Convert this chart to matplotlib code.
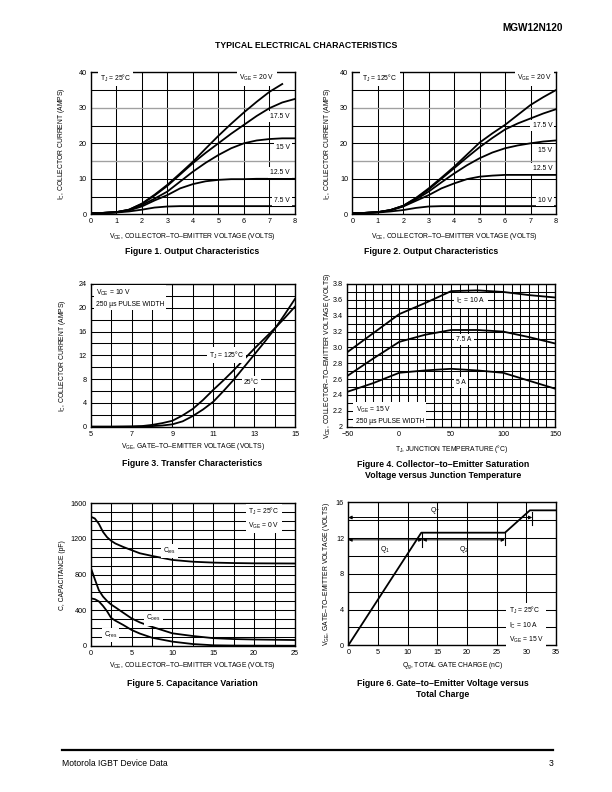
import matplotlib
matplotlib.use('Agg')
import matplotlib.pyplot as plt

plt.rcParams['font.family'] = ['Liberation Sans', 'DejaVu Sans']
plt.rcParams['mathtext.fontset'] = 'custom'
plt.rcParams['mathtext.rm'] = 'Liberation Sans'
plt.rcParams['mathtext.it'] = 'Liberation Sans'
plt.rcParams['mathtext.default'] = 'regular'

# ---- Figure 1: output characteristics, TJ = 25C
vce = [0, 0.5, 1, 1.5, 2, 2.5, 3, 3.5, 4, 4.5, 5, 5.5, 6, 6.5, 7, 7.5, 8]
f1_20 = [0.3, 0.4, 0.6, 1.3, 3.0, 5.5, 8.3, 11.5, 14.8, 18.5, 22.1, 25.5, 28.7, 31.7, 34.5, 36.7]
f1_175 = [0.3, 0.4, 0.6, 1.3, 2.9, 5.3, 8.0, 11.2, 14.4, 17.3, 20.0, 22.7, 25.2, 27.7, 29.9, 31.5, 32.5]
f1_15 = [0.3, 0.4, 0.6, 1.2, 2.6, 4.4, 6.4, 9.2, 12.0, 14.5, 16.7, 18.6, 20.0, 20.8, 21.2, 21.4, 21.4]
f1_125 = [0.3, 0.4, 0.6, 1.1, 2.2, 3.9, 5.4, 7.3, 8.5, 9.3, 9.7, 9.9, 9.9, 10.0, 10.0, 10.0, 10.0]
f1_75 = [0.3, 0.4, 0.5, 0.8, 1.3, 1.9, 2.2, 2.3, 2.3, 2.3, 2.3, 2.3, 2.3, 2.3, 2.3, 2.3, 2.3]

# ---- Figure 2: output characteristics, TJ = 125C
f2_20 = [0.3, 0.4, 0.6, 1.2, 2.4, 4.6, 7.3, 10.3, 13.4, 16.8, 20.2, 22.8, 25.2, 28.0, 30.8, 33.0, 35.0]
f2_175 = [0.3, 0.4, 0.6, 1.2, 2.4, 4.5, 7.0, 10.0, 13.0, 16.0, 18.9, 21.5, 23.9, 25.6, 27.0, 28.4, 29.6]
f2_15 = [0.3, 0.4, 0.6, 1.2, 2.3, 4.2, 6.4, 9.0, 11.5, 13.8, 15.8, 17.4, 18.6, 19.4, 20.0, 20.5, 20.8]
f2_125 = [0.3, 0.4, 0.6, 1.1, 2.2, 3.8, 5.4, 7.3, 8.7, 9.9, 10.6, 10.9, 11.1, 11.1, 11.1, 11.1, 11.1]
f2_10 = [0.3, 0.4, 0.5, 0.8, 1.2, 1.8, 2.2, 2.3, 2.3, 2.3, 2.3, 2.3, 2.3, 2.3, 2.3, 2.3, 2.3]

# ---- Figure 3: transfer characteristics
vge = [5, 6, 7, 7.5, 8, 8.5, 9, 9.5, 10, 10.5, 11, 11.5, 12, 12.5, 13, 13.5, 14, 14.5, 15]
ic_125 = [0, 0, 0.05, 0.1, 0.3, 0.6, 1.0, 1.9, 3.0, 4.5, 6.2, 7.8, 9.5, 11.3, 13.1, 14.8, 16.5, 18.3, 20.2]
ic_25 = [0, 0, 0, 0.05, 0.1, 0.2, 0.4, 0.9, 1.8, 2.9, 4.2, 6.0, 7.9, 10.0, 12.1, 14.2, 16.4, 18.9, 21.5]

# ---- Figure 4: VCE(sat) vs junction temperature
tj = [-50, -25, 0, 25, 50, 75, 100, 125, 150]
vsat_10 = [2.94, 3.18, 3.42, 3.56, 3.71, 3.72, 3.70, 3.66, 3.63]
vsat_75 = [2.64, 2.86, 3.07, 3.16, 3.22, 3.22, 3.20, 3.13, 3.05]
vsat_5 = [2.44, 2.55, 2.68, 2.71, 2.73, 2.71, 2.68, 2.58, 2.48]

# ---- Figure 5: capacitance variation
vce_c = [0, 0.5, 1, 1.5, 2, 2.5, 3, 4, 5, 6, 7.5, 10, 12.5, 15, 17.5, 20, 25]
cies = [1450, 1430, 1370, 1280, 1220, 1180, 1150, 1110, 1075, 1040, 1010, 965, 945, 935, 930, 927, 925]
coes = [880, 750, 625, 555, 505, 465, 435, 372, 310, 265, 215, 142, 112, 88, 78, 73, 67]
cres = [535, 525, 500, 450, 390, 315, 285, 235, 180, 140, 93, 49, 22, 8, 5, 4, 3]

# ---- Figure 6: gate charge
qg = [0, 12.3, 26.4, 30.6, 35]
vge_q = [0, 12.6, 12.6, 15.1, 15.1]

fig = plt.figure(figsize=(6.12, 7.92), dpi=100)

TICK = 5.2
LAB = 4.9


def px_axes(l, t, r, b):
    return fig.add_axes([l / 612, 1 - b / 792, (r - l) / 612, (b - t) / 792])


def setup(ax, xlim, ylim, xmaj, xgrid, ymaj, ygrid):
    ax.set_xlim(xlim)
    ax.set_ylim(ylim)
    ax.set_xticks(xmaj)
    ax.set_yticks(ymaj)
    ax.set_xticks(xgrid, minor=True)
    ax.set_yticks(ygrid, minor=True)
    ax.tick_params(which='both', length=0, labelsize=TICK, pad=3)
    ax.grid(which='both', color='black', lw=0.75)
    for s in ax.spines.values():
        s.set_linewidth(1.0)


def note(ax, x, y, s, ha='left', va='center'):
    ax.text(x, y, s, fontsize=LAB, ha=ha, va=va, zorder=5, linespacing=1.6,
            bbox=dict(fc='white', ec='none', pad=1.5))


def labels(ax, xl, yl, xy, yx):
    ax.text(0.5, xy, xl, transform=ax.transAxes, fontsize=LAB, ha='center', va='center')
    ax.text(yx, 0.5, yl, transform=ax.transAxes, fontsize=LAB, ha='center', va='center', rotation=90)


def title(xc, yc, s):
    fig.text(xc / 612, 1 - yc / 792, s, fontsize=6.3, fontweight='bold', ha='center', va='center',
             linespacing=1.3)


kw = dict(color='black', lw=1.3, zorder=3, solid_joinstyle='round')

# Figure 1
ax1 = px_axes(90.7, 72.3, 295, 214.3)
setup(ax1, (0, 8), (0, 40), range(0, 9), range(0, 9), range(0, 41, 10), range(0, 41, 5))
for yy in (15, 30):
    ax1.axhline(yy, color='#a0a0a0', lw=0.9, zorder=2)
ax1.plot(vce[:len(f1_20)], f1_20, **kw)
for s in (f1_175, f1_15, f1_125, f1_75):
    ax1.plot(vce, s, **kw)
note(ax1, 0.35, 38.3, r'T$_J$ = 25°C')
note(ax1, 7.2, 38.3, r'V$_{GE}$ = 20 V', ha='right')
note(ax1, 7.8, 27.5, '17.5 V', ha='right')
note(ax1, 7.8, 18.8, '15 V', ha='right')
note(ax1, 7.8, 11.8, '12.5 V', ha='right')
note(ax1, 7.8, 4.0, '7.5 V', ha='right')
labels(ax1, r'V$_{CE}$, COLLECTOR–TO–EMITTER VOLTAGE (VOLTS)', r'I$_C$, COLLECTOR CURRENT (AMPS)', -0.155, -0.145)
title(192, 252, 'Figure 1. Output Characteristics')

# Figure 2
ax2 = px_axes(352.3, 72.3, 556, 214.3)
setup(ax2, (0, 8), (0, 40), range(0, 9), range(0, 9), range(0, 41, 10), range(0, 41, 5))
for yy in (15, 30):
    ax2.axhline(yy, color='#a0a0a0', lw=0.9, zorder=2)
for s in (f2_20, f2_175, f2_15, f2_125, f2_10):
    ax2.plot(vce, s, **kw)
note(ax2, 0.4, 38.3, r'T$_J$ = 125°C')
note(ax2, 7.85, 38.3, r'V$_{GE}$ = 20 V', ha='right')
note(ax2, 7.85, 25.0, '17.5 V', ha='right')
note(ax2, 7.85, 17.9, '15 V', ha='right')
note(ax2, 7.85, 13.0, '12.5 V', ha='right')
note(ax2, 7.85, 4.0, '10 V', ha='right')
labels(ax2, r'V$_{CE}$, COLLECTOR–TO–EMITTER VOLTAGE (VOLTS)', r'I$_C$, COLLECTOR CURRENT (AMPS)', -0.155, -0.124)
title(431, 252, 'Figure 2. Output Characteristics')

# Figure 3
ax3 = px_axes(90.7, 284, 295, 426.7)
setup(ax3, (5, 15), (0, 24), range(5, 16, 2), range(5, 16), range(0, 25, 4), range(0, 25, 2))
ax3.plot(vge, ic_125, **kw)
ax3.plot(vge, ic_25, **kw)
note(ax3, 5.25, 21.6, 'V$_{CE}$ = 10 V\n250 µs PULSE WIDTH', va='center')
note(ax3, 10.8, 12.05, r'T$_J$ = 125°C')
note(ax3, 12.5, 7.5, '25°C')
labels(ax3, r'V$_{GE}$, GATE–TO–EMITTER VOLTAGE (VOLTS)', r'I$_C$, COLLECTOR CURRENT (AMPS)', -0.14, -0.136)
title(192, 464, 'Figure 3. Transfer Characteristics')

# Figure 4
ax4 = px_axes(347.3, 284, 555, 426.7)
setup(ax4, (-50, 150), (2, 3.8), range(-50, 151, 50), [-50 + 50 * i / 6 for i in range(25)],
      [2 + 0.2 * i for i in range(10)], [2 + 0.1 * i for i in range(19)])
ax4.set_yticklabels(['2', '2.2', '2.4', '2.6', '2.8', '3.0', '3.2', '3.4', '3.6', '3.8'])
ax4.set_xticklabels(['−50', '0', '50', '100', '150'])
for s in (vsat_10, vsat_75, vsat_5):
    ax4.plot(tj, s, **kw)
note(ax4, 55, 3.59, r'I$_C$ = 10 A')
note(ax4, 55, 3.10, '7.5 A')
note(ax4, 55, 2.56, '5 A')
note(ax4, -42, 2.145, 'V$_{GE}$ = 15 V\n250 µs PULSE WIDTH')
labels(ax4, r'T$_J$, JUNCTION TEMPERATURE (°C)', r'V$_{CE}$, COLLECTOR–TO–EMITTER VOLTAGE (VOLTS)', -0.155, -0.093)
title(443, 470, 'Figure 4. Collector–to–Emitter Saturation\nVoltage versus Junction Temperature')

# Figure 5
ax5 = px_axes(90.7, 503.3, 295, 646)
setup(ax5, (0, 25), (0, 1600), range(0, 26, 5), [2.5 * i for i in range(11)], range(0, 1601, 400),
      range(0, 1601, 100))
for s in (cies, coes, cres):
    ax5.plot(vce_c, s, **kw)
note(ax5, 19.3, 1430, 'T$_J$ = 25°C\nV$_{GE}$ = 0 V')
note(ax5, 8.9, 1065, 'C$_{ies}$')
note(ax5, 6.8, 310, 'C$_{oes}$')
note(ax5, 1.6, 123, 'C$_{res}$')
labels(ax5, r'V$_{CE}$, COLLECTOR–TO–EMITTER VOLTAGE (VOLTS)', 'C, CAPACITANCE (pF)', -0.14, -0.136)
title(192, 683, 'Figure 5. Capacitance Variation')

# Figure 6
ax6 = px_axes(348.3, 502.3, 556, 645.3)
setup(ax6, (0, 35), (0, 16), range(0, 36, 5), range(0, 36, 5), range(0, 17, 4), range(0, 17, 2))
ax6.plot(qg, vge_q, **kw)
akw = dict(arrowstyle='<|-|>', color='black', lw=0.7, mutation_scale=5, shrinkA=0, shrinkB=0)
ax6.annotate('', xy=(0, 14.3), xytext=(qg[3] + 0.4, 14.3), arrowprops=akw, zorder=4)
ax6.annotate('', xy=(0, 11.8), xytext=(qg[1] + 0.2, 11.8), arrowprops=akw, zorder=4)
ax6.annotate('', xy=(qg[1] + 0.2, 11.8), xytext=(qg[2], 11.8), arrowprops=akw, zorder=4)
ax6.plot([qg[3] + 0.4] * 2, [13.5, 14.9], color='black', lw=0.8)
ax6.plot([qg[1] + 0.2] * 2, [11.0, 12.6], color='black', lw=0.8)
ax6.plot([qg[2]] * 2, [11.2, 12.6], color='black', lw=0.8)
ax6.text(14.6, 15.05, 'Q$_T$', fontsize=LAB, ha='center', va='center')
ax6.text(6.2, 10.7, 'Q$_1$', fontsize=LAB, ha='center', va='center')
ax6.text(19.5, 10.7, 'Q$_2$', fontsize=LAB, ha='center', va='center')
note(ax6, 27, 2.25, 'T$_J$ = 25°C\nI$_C$ = 10 A\nV$_{GE}$ = 15 V')
labels(ax6, r'Q$_g$, TOTAL GATE CHARGE (nC)', r'V$_{GE}$, GATE–TO–EMITTER VOLTAGE (VOLTS)', -0.14, -0.103)
title(443, 689, 'Figure 6. Gate–to–Emitter Voltage versus\nTotal Charge')

# page header / footer
fig.text(306 / 612, 1 - 45 / 792, 'TYPICAL ELECTRICAL CHARACTERISTICS', fontsize=6.3, fontweight='bold',
         ha='center', va='center')
fig.text(563 / 612, 1 - 28 / 792, 'MGW12N120', fontsize=7.2, fontweight='heavy', ha='right', va='center')
fig.add_artist(plt.Line2D([62 / 612, 553 / 612], [1 - 750 / 792] * 2, color='black', lw=1.6))
fig.text(62 / 612, 1 - 763 / 792, 'Motorola IGBT Device Data', fontsize=6.2, ha='left', va='center')
fig.text(553 / 612, 1 - 763 / 792, '3', fontsize=6.2, ha='right', va='center')

fig.savefig('out.png', dpi=100, facecolor='white')
